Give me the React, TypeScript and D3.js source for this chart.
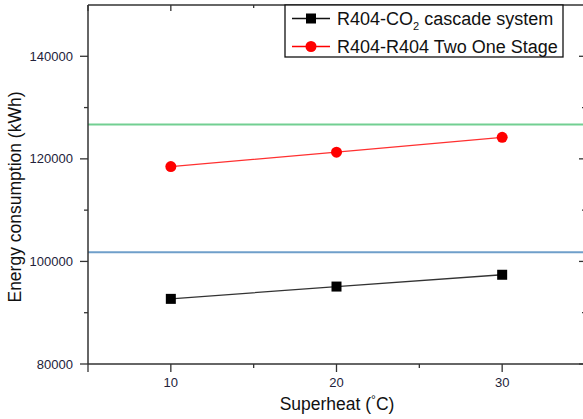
import React from "react";
import * as d3 from "d3";

const superheat = [10, 20, 30];
const cascadeCO2 = [92700, 95100, 97400];
const twoOneStage = [118500, 121300, 124200];
const greenRef = 126700;
const blueRef = 101800;
const yMajorTicks = [80000, 100000, 120000, 140000];
const yMinorTicks = [90000, 110000, 130000];
const xMajorTicks = [10, 20, 30];
const xMinorTicks = [15, 25];

const W = 583;
const H = 419;
const left = 88;
const right = 585;
const top = 5;
const bottom = 364;
const FONT = "'Liberation Sans', Arial, sans-serif";

export default function App() {
  const x = d3.scaleLinear().domain([5, 35]).range([left, right]);
  const y = d3.scaleLinear().domain([80000, 150000]).range([bottom, top]);
  const line = d3
    .line<[number, number]>()
    .x((d) => x(d[0]))
    .y((d) => y(d[1]));
  const blackPts = superheat.map((s, i) => [s, cascadeCO2[i]] as [number, number]);
  const redPts = superheat.map((s, i) => [s, twoOneStage[i]] as [number, number]);
  const axisColor = "#333";
  const tickTextColor = "#22223a";

  return (
    <svg
      width={W}
      height={H}
      style={{ position: "fixed", left: 0, top: 0, background: "#fff" }}
      fontFamily={FONT}
    >
      <rect x={0} y={0} width={W} height={H} fill="#fff" />
      {/* reference lines */}
      <line x1={left} x2={right} y1={y(greenRef)} y2={y(greenRef)} stroke="#72cf92" strokeWidth={2} />
      <line x1={left} x2={right} y1={y(blueRef)} y2={y(blueRef)} stroke="#6f9fca" strokeWidth={2} />

      {/* series */}
      <path d={line(blackPts) || ""} fill="none" stroke="#333" strokeWidth={1.3} />
      <path d={line(redPts) || ""} fill="none" stroke="#ff3030" strokeWidth={1.3} />
      {blackPts.map((p, i) => (
        <rect key={"b" + i} x={x(p[0]) - 5} y={y(p[1]) - 5} width={10} height={10} fill="#000" />
      ))}
      {redPts.map((p, i) => (
        <circle key={"r" + i} cx={x(p[0])} cy={y(p[1])} r={5.5} fill="#ff0000" />
      ))}

      {/* frame */}
      <line x1={left} x2={left} y1={top} y2={bottom} stroke={axisColor} strokeWidth={1.5} />
      <line x1={left} x2={right} y1={bottom} y2={bottom} stroke={axisColor} strokeWidth={1.5} />
      <line x1={left} x2={right} y1={top} y2={top} stroke={axisColor} strokeWidth={1.5} />
      <line x1={right} x2={right} y1={top} y2={bottom} stroke={axisColor} strokeWidth={1.5} />

      {/* y ticks */}
      {yMajorTicks.map((t) => (
        <g key={"ym" + t}>
          <line x1={left - 8} x2={left} y1={y(t)} y2={y(t)} stroke={axisColor} strokeWidth={1.3} />
          <line x1={right - 6} x2={right} y1={y(t)} y2={y(t)} stroke={axisColor} strokeWidth={1.3} />
          <text
            x={left - 15}
            y={y(t)}
            dy="0.35em"
            textAnchor="end"
            fontSize={13}
            fill={tickTextColor}
          >
            {t}
          </text>
        </g>
      ))}
      {yMinorTicks.map((t) => (
        <g key={"yn" + t}>
          <line x1={left - 4} x2={left} y1={y(t)} y2={y(t)} stroke={axisColor} strokeWidth={1.3} />
          <line x1={right - 3} x2={right} y1={y(t)} y2={y(t)} stroke={axisColor} strokeWidth={1.3} />
        </g>
      ))}
      {/* x ticks */}
      {[5, ...xMajorTicks].map((t) => (
        <g key={"xm" + t}>
          <line x1={x(t)} x2={x(t)} y1={bottom} y2={bottom + 8} stroke={axisColor} strokeWidth={1.3} />
          <line x1={x(t)} x2={x(t)} y1={top} y2={top + 6} stroke={axisColor} strokeWidth={1.3} />
          {t !== 5 && (
            <text x={x(t)} y={387} textAnchor="middle" fontSize={13} fill={tickTextColor}>
              {t}
            </text>
          )}
        </g>
      ))}
      {xMinorTicks.map((t) => (
        <g key={"xn" + t}>
          <line x1={x(t)} x2={x(t)} y1={bottom} y2={bottom + 4} stroke={axisColor} strokeWidth={1.3} />
          <line x1={x(t)} x2={x(t)} y1={top} y2={top + 3} stroke={axisColor} strokeWidth={1.3} />
        </g>
      ))}

      {/* axis titles */}
      <text x={337} y={410} textAnchor="middle" fontSize={17.5} fill="#111">
        Superheat (
        <tspan fontSize={12} dy={-6}>°</tspan>
        <tspan dy={6}>C)</tspan>
      </text>
      <text
        transform="translate(21,197) rotate(-90)"
        textAnchor="middle"
        fontSize={17.5}
        fill="#111"
      >
        Energy consumption (kWh)
      </text>

      {/* legend */}
      <rect x={285} y={top} width={278} height={52} fill="#fff" stroke="#111" strokeWidth={1.3} />
      <line x1={292} x2={330} y1={18.5} y2={18.5} stroke="#111" strokeWidth={1.3} />
      <rect x={306} y={13.5} width={10} height={10} fill="#000" />
      <text x={337} y={18.5} dy="0.35em" fontSize={18} fill="#111">
        R404-CO
        <tspan fontSize={11} dy={5}>2</tspan>
        <tspan dy={-5}> cascade system</tspan>
      </text>
      <line x1={292} x2={330} y1={46.5} y2={46.5} stroke="#ff0000" strokeWidth={1.3} />
      <circle cx={311} cy={46.5} r={5.5} fill="#ff0000" />
      <text x={337} y={46.5} dy="0.35em" fontSize={18} fill="#111">
        R404-R404 Two One Stage
      </text>
    </svg>
  );
}
